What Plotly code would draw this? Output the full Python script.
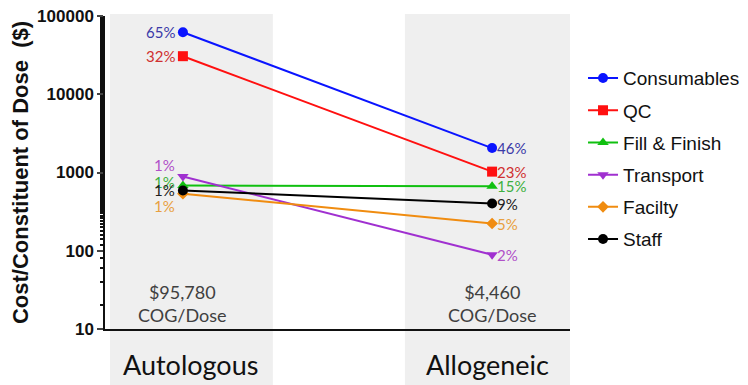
import math
import plotly.graph_objects as go

groups = ["Autologous", "Allogeneic"]
totals = ["$95,780", "$4,460"]
series = ["Consumables", "QC", "Fill & Finish", "Transport", "Facilty", "Staff"]
auto_vals = [62000, 30650, 680, 890, 535, 590]
allo_vals = [2052, 1026, 669, 89, 223, 401]
auto_pct = ["65%", "32%", "1%", "1%", "1%", "1%"]
allo_pct = ["46%", "23%", "15%", "2%", "5%", "9%"]
auto_shift = [0, 0, 4, 11, -12, 0]
line_colors = ["#0a14ff", "#ff1010", "#10c010", "#a030d0", "#f08c10", "#000000"]
text_colors = ["#3a3aa8", "#d03030", "#40b040", "#b050c8", "#e8a040", "#202020"]
symbols = ["circle", "square", "triangle-up", "triangle-down", "diamond", "circle"]
ytick_vals = [10, 100, 1000, 10000, 100000]

xpos = [0, 1]
fig = go.Figure()
for i in range(len(series)):
    fig.add_trace(go.Scatter(
        x=xpos, y=[auto_vals[i], allo_vals[i]], name=series[i], mode="lines+markers",
        legendgroup=series[i],
        line=dict(color=line_colors[i], width=2),
        marker=dict(symbol=symbols[i], size=10 if symbols[i] != "diamond" else 9, color=line_colors[i]),
    ))

for i in range(len(series)):
    fig.add_annotation(x=xpos[0], y=math.log10(auto_vals[i]), text=auto_pct[i],
                       xanchor="right", xshift=-6, yshift=auto_shift[i], showarrow=False,
                       font=dict(family="Lato", size=15, color=text_colors[i]))
    fig.add_annotation(x=xpos[1], y=math.log10(allo_vals[i]), text=allo_pct[i],
                       xanchor="left", xshift=3, showarrow=False,
                       font=dict(family="Lato", size=15, color=text_colors[i]))

for j in range(2):
    fig.add_annotation(x=xpos[j], xref="x", y=0.08, yref="paper", yanchor="middle",
                       text=totals[j] + "<br>COG/Dose",
                       showarrow=False, font=dict(family="Lato", size=18, color="#404040"),
                       align="center")
    fig.add_annotation(x=xpos[j] + (0.026 if j == 0 else -0.016), xref="x", y=-0.115, yref="paper",
                       text=groups[j], showarrow=False, yanchor="middle",
                       font=dict(family="Lato", size=27, color="#111111"))

bands = [(-0.236, 0.291), (0.718, 1.252)]
for x0, x1 in bands:
    fig.add_shape(type="rect", xref="x", yref="paper", x0=x0, x1=x1, y0=-0.2, y1=1.006,
                  fillcolor="#efefef", line=dict(width=0), layer="below")

fig.update_layout(
    width=740, height=377, paper_bgcolor="white", plot_bgcolor="white",
    margin=dict(l=97, r=178, t=8, b=56, autoexpand=False),
    font=dict(family="Liberation Sans", color="#111111"),
    legend=dict(x=1.028, y=0.862, xanchor="left", yanchor="top", font=dict(size=19, family="Liberation Sans"),
                tracegroupgap=4.5, itemwidth=30, bgcolor="rgba(0,0,0,0)"),
    xaxis=dict(range=[-0.252, 1.252], showgrid=False, zeroline=False, showticklabels=False,
               showline=True, linecolor="#111111", linewidth=1.5, ticks="", automargin=False),
    yaxis=dict(type="log", range=[1, 5], showgrid=False, zeroline=False, showline=True, automargin=False,
               linecolor="#111111", linewidth=1.5, ticks="outside", ticklen=6, tickwidth=1.5,
               tickvals=ytick_vals, ticktext=[str(v) for v in ytick_vals], ticklabeloverflow="allow",
               tickfont=dict(family="Liberation Sans", size=17, color="#111111", weight="bold"),
               minor=dict(ticks="outside", ticklen=3, tickcolor="#111111", showgrid=False),
               title=dict(text="Cost/Constituent of Dose  ($)",
                          font=dict(family="Liberation Sans", size=22, color="#111111", weight="bold"),
                          standoff=18)),
)
fig.write_html("out.html")
